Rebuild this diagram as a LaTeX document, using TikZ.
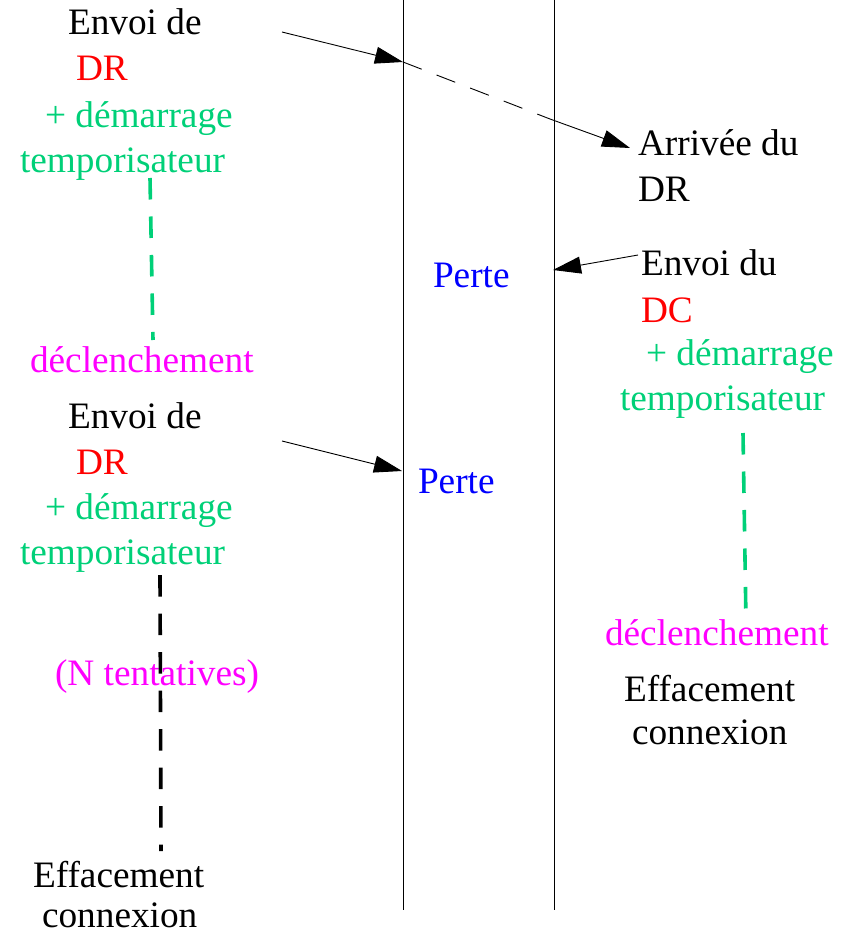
\documentclass[tikz,border=0pt]{standalone}
\usepackage{fontspec}
\setmainfont{Liberation Serif}
\usetikzlibrary{arrows.meta}
\definecolor{tgreen}{RGB}{0,208,120}
\definecolor{tmag}{RGB}{255,0,255}
\definecolor{tblue}{RGB}{0,0,255}
\definecolor{tred}{RGB}{255,0,0}
\begin{document}
\begin{tikzpicture}[x=1pt,y=-1pt,
  lbl/.style={anchor=base west,inner sep=0pt,outer sep=0pt,font=\fontsize{37.3}{42}\selectfont},
  msg/.style={line width=0.9pt,-{Triangle[length=28pt,width=17pt]}},
  timer/.style={line width=3.6pt,dash pattern=on 21.5pt off 17pt}]
\useasboundingbox (0,0) rectangle (847,934);
% time lines
\coordinate (A0) at (403,0); \coordinate (A1) at (403,910);
\coordinate (B0) at (554,0); \coordinate (B1) at (554,910);
\draw[line width=0.9pt] (A0) -- (A1);
\draw[line width=0.9pt] (B0) -- (B1);
% left group 1
\node[lbl] (e1) at (68,35) {Envoi de};
\node[lbl,text=tred] (dr1) at (76,81) {DR};
\node[lbl,text=tgreen] (dm1) at (45,127) {+ démarrage};
\node[lbl,text=tgreen] (tp1) at (20,172) {temporisateur};
\node[lbl,text=tmag] (dc1) at (30,372) {déclenchement};
% left group 2
\node[lbl] (e2) at (68,428) {Envoi de};
\node[lbl,text=tred] (dr2) at (76,474) {DR};
\node[lbl,text=tgreen] (dm2) at (45,519) {+ démarrage};
\node[lbl,text=tgreen] (tp2) at (20,564) {temporisateur};
\node[lbl,text=tmag] (nt) at (55,685) {(N tentatives)};
\node[lbl] (ef1) at (33,887) {Effacement};
\node[lbl] (cx1) at (42,927) {connexion};
% right side
\node[lbl] (ar) at (638,155) {Arrivée du};
\node[lbl] (ardr) at (638,201) {DR};
\node[lbl] (eu) at (641,275) {Envoi du};
\node[lbl,text=tred] (dc) at (641,322) {DC};
\node[lbl,text=tgreen] (dm3) at (646,365) {+ démarrage};
\node[lbl,text=tgreen] (tp3) at (620,410) {temporisateur};
\node[lbl,text=tmag] (dc2) at (605,645) {déclenchement};
\node[lbl] (ef2) at (624,701) {Effacement};
\node[lbl] (cx2) at (632,744) {connexion};
% losses
\node[lbl,text=tblue] (p1) at (433,287) {Perte};
\node[lbl,text=tblue] (p2) at (418,493) {Perte};
% message arrows
\coordinate (s1) at (282,32);
\coordinate (t1) at (403,62);
\coordinate (u1) at (550,119);
\coordinate (v1) at (630,148);
\draw[msg] (s1) -- (t1);
\draw[line width=0.9pt,dash pattern=on 20pt off 16pt] (t1) -- (u1);
\draw[msg] (u1) -- (v1);
\coordinate (s2) at (638,255);
\coordinate (t2) at (553,270);
\draw[msg] (s2) -- (t2);
\coordinate (s3) at (282,441);
\coordinate (t3) at (402,471);
\draw[msg] (s3) -- (t3);
% timers
\coordinate (g1a) at (150,178); \coordinate (g1b) at (153,340);
\draw[timer,tgreen] (g1a) -- (g1b);
\coordinate (g2a) at (743,433); \coordinate (g2b) at (746,622);
\draw[timer,tgreen] (g2a) -- (g2b);
\coordinate (k1a) at (160,575); \coordinate (k1b) at (161,851);
\draw[timer,black] (k1a) -- (k1b);
\end{tikzpicture}
\end{document}
